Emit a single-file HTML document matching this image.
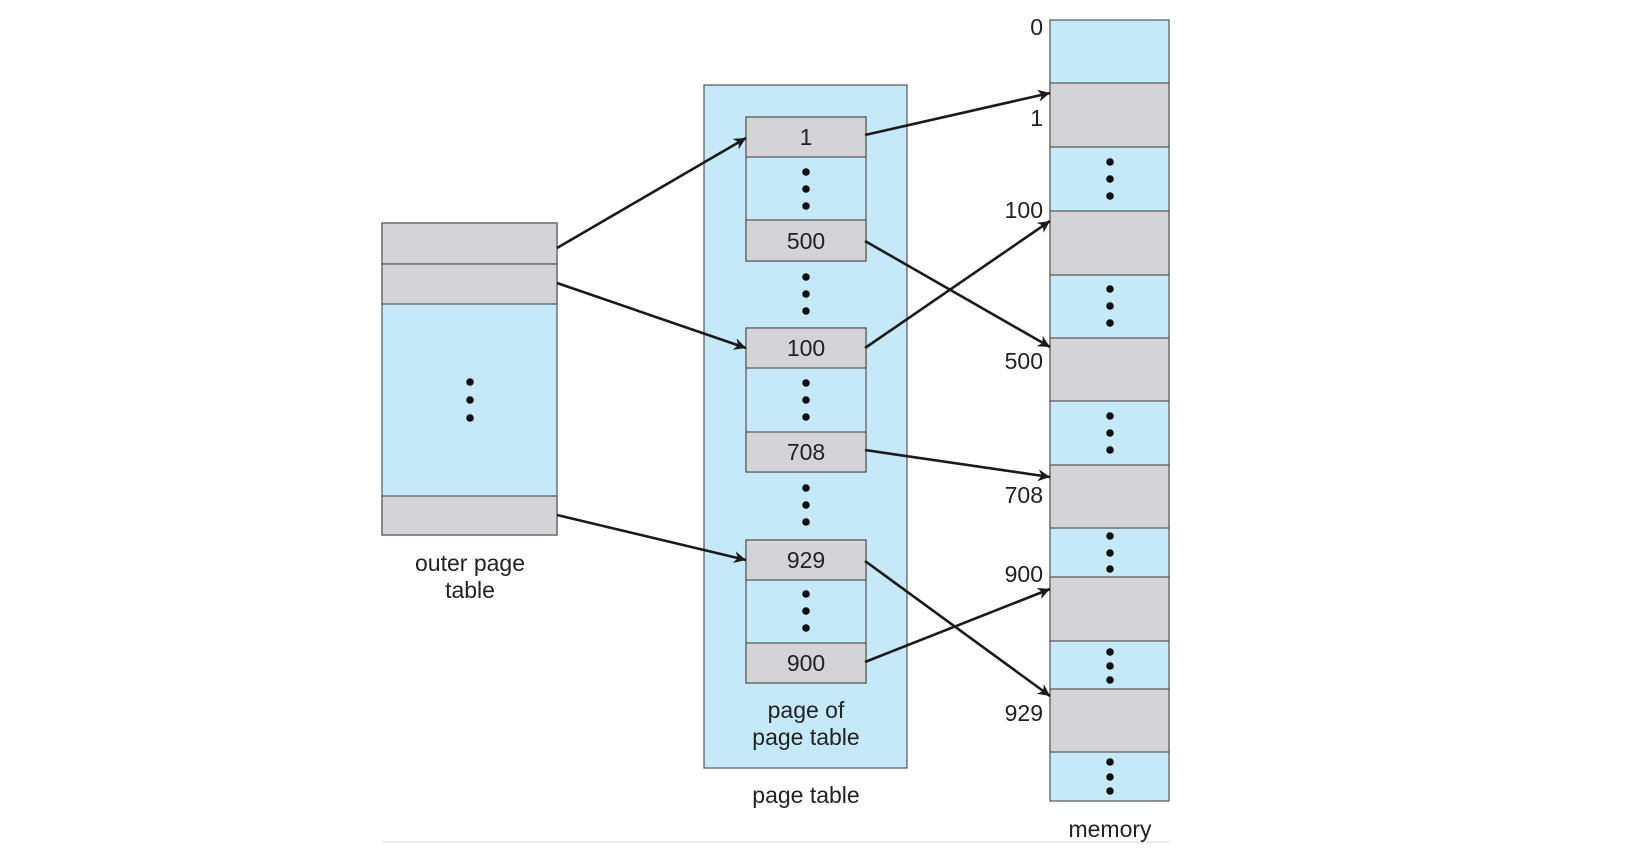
<!DOCTYPE html>
<html><head><meta charset="utf-8"><style>html,body{margin:0;padding:0;background:#fff}svg{display:block}text{font-family:"Liberation Sans",sans-serif;font-size:23px;fill:#222}</style></head><body>
<svg width="1637" height="850" viewBox="0 0 1637 850">
<defs><marker id="a" viewBox="0 0 10 10" refX="10" refY="5" markerWidth="16" markerHeight="12" markerUnits="userSpaceOnUse" orient="auto"><path d="M0,0 L10,5 L0,10 L3,5 Z" fill="#1a1a1a"/></marker></defs>
<g stroke="#555" stroke-width="1.2">
<!-- outer page table -->
<rect x="382" y="223" width="175" height="312" fill="#c6e9f9"/>
<rect x="382" y="223" width="175" height="41" fill="#d4d4d6"/>
<rect x="382" y="264" width="175" height="40" fill="#d4d4d6"/>
<rect x="382" y="496" width="175" height="39" fill="#d4d4d6"/>
<!-- page table -->
<rect x="704" y="85" width="203" height="683" fill="#c6e9f9"/>
<rect x="746" y="117" width="120" height="144" fill="#c6e9f9"/>
<rect x="746" y="117" width="120" height="40" fill="#d4d4d6"/>
<rect x="746" y="220" width="120" height="41" fill="#d4d4d6"/>
<rect x="746" y="328" width="120" height="144" fill="#c6e9f9"/>
<rect x="746" y="328" width="120" height="40" fill="#d4d4d6"/>
<rect x="746" y="432" width="120" height="40" fill="#d4d4d6"/>
<rect x="746" y="540" width="120" height="143" fill="#c6e9f9"/>
<rect x="746" y="540" width="120" height="40" fill="#d4d4d6"/>
<rect x="746" y="643" width="120" height="40" fill="#d4d4d6"/>
<!-- memory -->
<rect x="1050" y="20" width="119" height="781" fill="#c6e9f9"/>
<rect x="1050" y="83" width="119" height="64" fill="#d4d4d6"/>
<rect x="1050" y="211" width="119" height="64" fill="#d4d4d6"/>
<rect x="1050" y="338" width="119" height="63" fill="#d4d4d6"/>
<rect x="1050" y="465" width="119" height="63" fill="#d4d4d6"/>
<rect x="1050" y="577" width="119" height="64" fill="#d4d4d6"/>
<rect x="1050" y="689" width="119" height="63" fill="#d4d4d6"/>
</g>
<line x1="382" y1="842" x2="1169" y2="842" stroke="#e4e4e4" stroke-width="1.5"/>
<g fill="#111">
<!-- dots: centers -->
<g id="d"></g>
<circle cx="470" cy="382" r="3.8"/><circle cx="470" cy="400" r="3.8"/><circle cx="470" cy="418" r="3.8"/>
<circle cx="806" cy="172" r="3.8"/><circle cx="806" cy="189" r="3.8"/><circle cx="806" cy="206" r="3.8"/>
<circle cx="806" cy="277" r="3.8"/><circle cx="806" cy="294" r="3.8"/><circle cx="806" cy="311" r="3.8"/>
<circle cx="806" cy="383" r="3.8"/><circle cx="806" cy="400" r="3.8"/><circle cx="806" cy="417" r="3.8"/>
<circle cx="806" cy="488" r="3.8"/><circle cx="806" cy="505" r="3.8"/><circle cx="806" cy="522" r="3.8"/>
<circle cx="806" cy="594" r="3.8"/><circle cx="806" cy="611" r="3.8"/><circle cx="806" cy="628" r="3.8"/>
<circle cx="1110" cy="162" r="3.8"/><circle cx="1110" cy="179" r="3.8"/><circle cx="1110" cy="196" r="3.8"/>
<circle cx="1110" cy="289" r="3.8"/><circle cx="1110" cy="306" r="3.8"/><circle cx="1110" cy="323" r="3.8"/>
<circle cx="1110" cy="416" r="3.8"/><circle cx="1110" cy="433" r="3.8"/><circle cx="1110" cy="450" r="3.8"/>
<circle cx="1110" cy="536" r="3.8"/><circle cx="1110" cy="553" r="3.8"/><circle cx="1110" cy="569" r="3.8"/>
<circle cx="1110" cy="652" r="3.8"/><circle cx="1110" cy="666" r="3.8"/><circle cx="1110" cy="680" r="3.8"/>
<circle cx="1110" cy="762" r="3.8"/><circle cx="1110" cy="777" r="3.8"/><circle cx="1110" cy="791" r="3.8"/>
</g>
<g stroke="#1a1a1a" stroke-width="2.6" marker-end="url(#a)">
<line x1="557" y1="248" x2="746" y2="138"/>
<line x1="557" y1="283" x2="746" y2="348"/>
<line x1="557" y1="515" x2="746" y2="560"/>
<line x1="865" y1="135" x2="1050" y2="93"/>
<line x1="865" y1="241" x2="1050" y2="347"/>
<line x1="865" y1="348" x2="1050" y2="221"/>
<line x1="865" y1="450" x2="1050" y2="477"/>
<line x1="865" y1="561" x2="1050" y2="696"/>
<line x1="865" y1="662" x2="1050" y2="589"/>
</g>
<g text-anchor="middle">
<text x="806" y="145">1</text>
<text x="806" y="249">500</text>
<text x="806" y="356">100</text>
<text x="806" y="460">708</text>
<text x="806" y="568">929</text>
<text x="806" y="671">900</text>
<text x="470" y="571">outer page</text>
<text x="470" y="598">table</text>
<text x="806" y="718">page of</text>
<text x="806" y="745">page table</text>
<text x="806" y="803">page table</text>
<text x="1110" y="837">memory</text>
</g>
<g text-anchor="end">
<text x="1043" y="35">0</text>
<text x="1043" y="126">1</text>
<text x="1043" y="218">100</text>
<text x="1043" y="369">500</text>
<text x="1043" y="503">708</text>
<text x="1043" y="582">900</text>
<text x="1043" y="721">929</text>
</g>
</svg>
</body></html>
